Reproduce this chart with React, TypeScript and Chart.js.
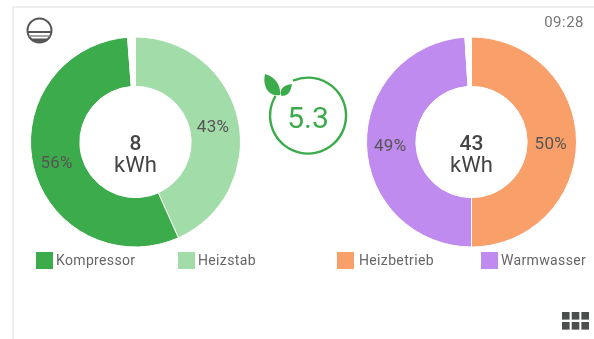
import React, { useEffect, useRef } from "react";
import { Chart, registerables } from "chart.js";

Chart.register(...registerables);

const leftLabels = ["Heizstab", "Kompressor", ""];
const leftValues = [43.3, 55.5, 1.2];
const leftColors = ["#a2dca8", "#3cab4b", "#ffffff"];
const leftTotal = "8";

const rightLabels = ["Heizbetrieb", "Warmwasser", ""];
const rightValues = [50, 49, 1];
const rightColors = ["#f99f69", "#bf8bee", "#ffffff"];
const rightTotal = "43";

const unit = "kWh";
const score = "5.3";
const time = "09:28";

const FONT = "Roboto, sans-serif";

const donutText = {
  id: "donutText",
  afterDatasetsDraw(chart: any, _a: any, opts: any) {
    const ctx = chart.ctx;
    const meta = chart.getDatasetMeta(0);
    const values = chart.data.datasets[0].data;
    ctx.save();
    ctx.textAlign = "center";
    ctx.textBaseline = "middle";
    // percentage labels
    ctx.font = `17px ${FONT}`;
    ctx.fillStyle = "#555";
    (ctx as any).letterSpacing = "0.3px";
    meta.data.forEach((arc: any, i: number) => {
      if (!chart.data.labels[i]) return;
      const p = arc.getProps(["startAngle", "endAngle", "innerRadius", "outerRadius", "x", "y"], true);
      const a = (p.startAngle + p.endAngle) / 2;
      const r = (p.innerRadius + p.outerRadius) / 2;
      ctx.fillText(`${Math.round(values[i])}%`, p.x + Math.cos(a) * r - 1, p.y + Math.sin(a) * r + 2.5);
    });
    // centre total
    const c = meta.data[0];
    ctx.fillStyle = "#444";
    (ctx as any).letterSpacing = "0px";
    ctx.font = `500 21px ${FONT}`;
    ctx.fillText(opts.total, c.x, c.y + 3);
    ctx.font = `400 22px ${FONT}`;
    ctx.fillText(unit, c.x, c.y + 24);
    // legend
    ctx.textAlign = "left";
    ctx.font = `14px ${FONT}`;
    (ctx as any).letterSpacing = "0.35px";
    opts.legend.forEach((item: any) => {
      ctx.fillStyle = chart.data.datasets[0].backgroundColor[item.index];
      ctx.fillRect(item.x, 252, 17, 17);
      ctx.fillStyle = "#666";
      ctx.fillText(chart.data.labels[item.index], item.textX, 261.5);
    });
    ctx.restore();
  },
};

function Donut(props: {
  labels: string[];
  values: number[];
  colors: string[];
  total: string;
  left: number;
  padding: { left: number; right: number; top: number; bottom: number };
  legend: { index: number; x: number; textX: number }[];
}) {
  const ref = useRef<HTMLCanvasElement>(null);
  useEffect(() => {
    const chart = new Chart(ref.current!, {
      type: "doughnut",
      data: {
        labels: props.labels,
        datasets: [{ data: props.values, backgroundColor: props.colors, borderColor: "#ffffff", borderWidth: 1 }],
      },
      options: {
        responsive: false,
        animation: false,
        cutout: "53%",
        layout: { padding: props.padding },
        plugins: {
          legend: { display: false },
          tooltip: { enabled: false },
          donutText: { total: props.total, legend: props.legend },
        } as any,
      },
      plugins: [donutText],
    } as any);
    return () => chart.destroy();
  }, []);
  return (
    <canvas
      ref={ref}
      width={297}
      height={339}
      style={{ position: "absolute", left: props.left, top: 0, width: 297, height: 339 }}
    />
  );
}

export default function App() {
  useEffect(() => {
    document.body.style.margin = "0";
    document.body.style.background = "#fff";
  }, []);
  return (
    <div style={{ position: "relative", width: 594, height: 339, overflow: "hidden", background: "#fff", filter: "blur(0.45px)" }}>
      <div style={{ position: "absolute", left: 12, top: 6, right: -4, bottom: -4, borderLeft: "2px solid #eeeeee", borderTop: "2px solid #eeeeee" }} />
      <Donut
        labels={leftLabels}
        values={leftValues}
        colors={leftColors}
        total={leftTotal}
        left={0}
        padding={{ left: 30, right: 56, top: 36, bottom: 91 }}
        legend={[{ index: 1, x: 36, textX: 56 }, { index: 0, x: 178, textX: 198 }]}
      />
      <Donut
        labels={rightLabels}
        values={rightValues}
        colors={rightColors}
        total={rightTotal}
        left={297}
        padding={{ left: 69, right: 17, top: 36, bottom: 91 }}
        legend={[{ index: 0, x: 40, textX: 62 }, { index: 1, x: 184, textX: 204 }]}
      />
      <svg width={594} height={339} style={{ position: "absolute", left: 0, top: 0 }}>
        {/* level icon */}
        <circle cx={39.5} cy={30.5} r={12} fill="none" stroke="#555" strokeWidth={2} />
        <path d="M28 32 h23" stroke="#555" strokeWidth={2} fill="none" />
        <path d="M29 36 h21" stroke="#888" strokeWidth={1.5} fill="none" />
        <path d="M31 38.5 h17 a12 12 0 0 1 -17 0 z" fill="#555" />
        {/* score ring */}
        <path d="M275.5 96 A38 38 0 1 0 293 80.7" fill="none" stroke="#3cab4b" strokeWidth={2.4} />
        <text x={308} y={127.5} textAnchor="middle" fontFamily={FONT} fontWeight={400} fontSize={30} fill="#3cab4b">{score}</text>
        {/* leaves */}
        <path d="M265 74 C272 76 281 82 280 95 C270 97 262 88 265 74 z" fill="#3cab4b" />
        <path d="M292 84 C291 91 288 97 281 95.5 C279 89 284 85 292 84 z" fill="#3cab4b" />
        {/* clock */}
        <text x={584} y={27} textAnchor="end" fontFamily={FONT} fontSize={15} letterSpacing={0.5} fill="#777">{time}</text>
        {/* grid icon */}
        {[0, 1].map((r) =>
          [0, 1, 2].map((c) => (
            <rect key={`${r}-${c}`} x={562 + c * 9.7} y={312 + r * 10} width={7.6} height={7.6} fill="#4a4f4d" />
          ))
        )}
      </svg>
    </div>
  );
}
